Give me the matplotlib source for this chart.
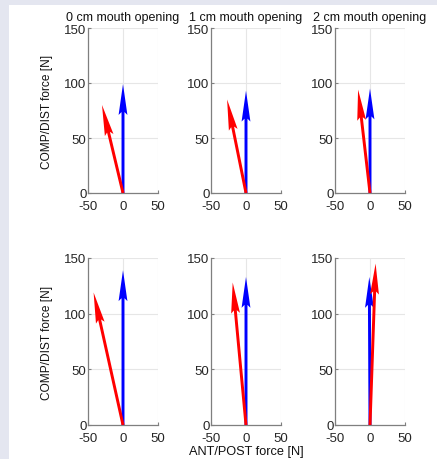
import numpy as np
import matplotlib.pyplot as plt
from matplotlib.patches import Rectangle

plt.rcParams['font.family'] = ['Liberation Sans', 'DejaVu Sans']
plt.rcParams['axes.unicode_minus'] = False

# Kraftvektoren (x = ANT/POST, y = COMP/DIST) je Mundöffnung
titel = ['0 cm mouth opening', '1 cm mouth opening', '2 cm mouth opening']
blau_oben = [(0, 99), (0, 93), (0, 95)]
rot_oben = [(-30, 80), (-27, 85), (-17, 94)]
blau_unten = [(0, 139), (0, 133), (-1, 133)]
rot_unten = [(-42, 119), (-19, 128), (8, 145)]

xticks = [-50, 0, 50]
yticks = [0, 50, 100, 150]

fig = plt.figure(figsize=(4.37, 4.60), dpi=100)
fig.patch.set_facecolor('#e4e6f0')
fig.patches.append(Rectangle((9 / 437, 0), 1, 1 - 6 / 460, transform=fig.transFigure,
                             facecolor='white', edgecolor='none', zorder=-10))

W, H = 437, 460
lefts = [88, 211, 335]
breite = 70
reihen = [(29, 194), (259, 426)]

for r, (top, bot) in enumerate(reihen):
    blau = blau_oben if r == 0 else blau_unten
    rot = rot_oben if r == 0 else rot_unten
    for c in range(3):
        ax = fig.add_axes([lefts[c] / W, 1 - bot / H, breite / W, (bot - top) / H])
        ax.set_zorder(1)
        ax.set_xlim(-50, 50)
        ax.set_ylim(0, 150)
        ax.set_xticks(xticks)
        ax.set_yticks(yticks)
        ax.grid(True, color='#e6e6e6', lw=0.8)
        ax.set_axisbelow(True)
        for s in ['top', 'right']:
            ax.spines[s].set_visible(False)
        for s in ['left', 'bottom']:
            ax.spines[s].set_color('#7f7f7f')
            ax.spines[s].set_linewidth(0.9)
        ax.tick_params(direction='in', length=2, color='#7f7f7f', labelsize=9.5,
                       labelcolor='#262626', pad=1)
        ax.tick_params(axis='x', pad=5)
        for vec, farbe in [(blau[c], '#0000ff'), (rot[c], '#ff0000')]:
            ax.quiver(0, 0, vec[0], vec[1], angles='xy', scale_units='xy', scale=1,
                      color=farbe, width=0.042, headwidth=3.0, headlength=10.5,
                      headaxislength=9.5, zorder=3)
        if r == 0:
            ax.set_title(titel[c], fontsize=9, color='#111111', pad=6)
        if c == 0:
            ax.set_ylabel('COMP/DIST force [N]', fontsize=8.6, color='#111111', labelpad=8)
        if r == 1 and c == 1:
            ax.set_xlabel('ANT/POST force [N]', fontsize=9.2, color='#111111', labelpad=1)

fig.savefig('out.png', dpi=100, facecolor=fig.get_facecolor())
